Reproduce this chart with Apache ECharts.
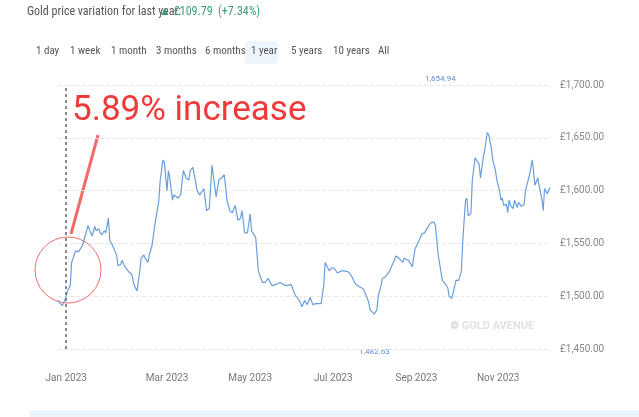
<!DOCTYPE html>
<html>
<head>
<meta charset="utf-8">
<script src="https://cdn.jsdelivr.net/npm/echarts@6/dist/echarts.min.js"></script>
<style>html,body{margin:0;padding:0;background:#fff}#c{width:639px;height:417px}</style>
</head>
<body>
<div id="c"></div>
<script>
// day offsets (0 = the dashed start line) and gold price in GBP
var days = [-6,-3,-1,0,1,3,4,7,9,10,12,13,15,16,18,19,21,22,24,25,26,28,29,31,32,34,35,37,38,40,41,43,46,48,50,52,54,55,57,58,60,61,63,65,68,69,71,72,74,75,76,78,79,82,84,86,88,90,91,93,95,96,98,101,103,105,107,110,112,114,116,118,120,122,124,126,128,129,131,133,135,136,137,139,141,144,146,147,148,151,154,157,161,165,168,171,173,175,177,179,181,183,185,187,189,190,193,195,197,199,202,204,207,209,210,212,215,218,220,222,223,226,228,229,231,232,234,237,240,242,244,247,248,251,254,256,259,261,263,266,268,270,271,273,276,278,280,281,283,284,286,288,290,291,293,294,295,297,298,300,301,303,304,306,307,309,310,312,313,315,316,318,319,320,321,323,324,325,326,328,329,331,332,334,336,337,339,340,342,343,344,346,347,349,350,351,353,354,355];
var prices = [1496,1491,1496,1500,1505,1510,1532,1543,1542,1543,1548,1553,1562,1567,1560,1557,1566,1562,1564,1560,1558,1562,1560,1574,1553,1548,1545,1539,1529,1530,1534,1528,1523,1521,1510,1505,1524,1536,1539,1536,1532,1539,1548,1567,1591,1610,1629,1627,1600,1619,1612,1591,1596,1593,1596,1619,1612,1610,1619,1622,1608,1600,1596,1602,1581,1583,1624,1594,1610,1612,1615,1591,1581,1579,1586,1572,1574,1581,1560,1560,1578,1562,1560,1556,1524,1513,1513,1512,1517,1510,1511,1513,1510,1511,1501,1496,1490,1496,1492,1499,1492,1493,1493,1493,1510,1532,1524,1527,1526,1522,1524,1524,1523,1520,1520,1512,1509,1507,1501,1494,1487,1483,1487,1500,1510,1517,1518,1523,1532,1538,1536,1532,1536,1534,1528,1545,1553,1559,1560,1567,1570,1570,1566,1539,1515,1512,1508,1500,1498,1499,1515,1515,1524,1553,1591,1593,1576,1579,1610,1631,1629,1625,1612,1631,1638,1655,1653,1640,1629,1619,1610,1600,1591,1593,1586,1587,1579,1591,1586,1583,1591,1584,1589,1585,1587,1600,1610,1615,1629,1629,1605,1612,1605,1592,1581,1602,1597,1597,1603];
var tickDays = [0,74,135,196,257,317];
var tickLabels = ['Jan 2023','Mar 2023','May 2023','Jul 2023','Sep 2023','Nov 2023'];
var yTicks = [1450,1500,1550,1600,1650,1700];
var periods = ['1 day','1 week','1 month','3 months','6 months','1 year','5 years','10 years','All'];
var periodX = [36,70,111,156,205,251,291,333,378];

var series = days.map(function (d, i) { return [d, prices[i]]; });
var chart = echarts.init(document.getElementById('c'));
var narrow = '"Liberation Sans Narrow", "Roboto Condensed", Roboto';

var graphics = [
  { type: 'text', left: 27, top: 6, style: { text: 'Gold price variation for last year:', fill: '#555', font: '12px ' + narrow } },
  { type: 'text', left: 159, top: 6, style: { text: '\u25B2 £109.79  (+7.34%)', fill: '#3d9c78', font: '12px ' + narrow } },
  { type: 'rect', shape: { x: 245, y: 41, width: 33, height: 23, r: 4 }, style: { fill: '#eef5fc' } },
  { type: 'text', left: 450, top: 321, style: { text: '\u2741 GOLD AVENUE', fill: '#e2e2e2', font: 'bold 11px Roboto' } },
  { type: 'text', left: 425, top: 75, style: { text: '1,654.94', fill: '#5b8fd0', font: '8px Roboto' } },
  { type: 'text', left: 359, top: 348, style: { text: '1,482.63', fill: '#5b8fd0', font: '8px Roboto' } },
  { type: 'circle', shape: { cx: 68, cy: 270, r: 33 }, style: { fill: 'none', stroke: '#f26b6b', lineWidth: 1 } },
  { type: 'line', shape: { x1: 71, y1: 234, x2: 98, y2: 135 }, style: { stroke: '#f46a6a', lineWidth: 3 } },
  { type: 'text', left: 72, top: 94, style: { text: '5.89% increase', fill: '#f03a3a', font: '35px Roboto' } },
  { type: 'rect', shape: { x: 30, y: 410, width: 609, height: 7 }, style: { fill: '#eef6fb' } }
];
periods.forEach(function (p, i) {
  graphics.push({ type: 'text', left: periodX[i], top: 46, style: { text: p, fill: '#555', font: '11px ' + narrow } });
});

chart.setOption({
  animation: false,
  grid: { left: 58, right: 89, top: 85, bottom: 68 },
  xAxis: {
    type: 'value', min: -6, max: 355, interval: 1,
    axisLine: { show: false }, axisTick: { show: false }, splitLine: { show: false },
    axisLabel: {
      color: '#777', fontSize: 10, fontFamily: 'Roboto', margin: 24,
      formatter: function (v) { var k = tickDays.indexOf(v); return k >= 0 ? tickLabels[k] : ''; }
    }
  },
  yAxis: {
    type: 'value', position: 'right', min: 1450, max: 1700, interval: 50,
    axisLine: { show: false }, axisTick: { show: false },
    splitLine: { lineStyle: { color: '#e8e8e8', type: 'dashed' } },
    axisLabel: {
      color: '#888', fontSize: 10, fontFamily: 'Roboto', margin: 10,
      formatter: function (v) { return yTicks.indexOf(v) >= 0 ? '£' + v.toLocaleString('en-GB') + '.00' : ''; }
    }
  },
  series: [{
    type: 'line', data: series, showSymbol: false,
    lineStyle: { color: '#6a9fdc', width: 1.2 },
    markLine: {
      silent: true, symbol: 'none', label: { show: false },
      lineStyle: { color: '#666', type: [3, 3], width: 1.5 },
      data: [{ xAxis: 0 }]
    }
  }],
  graphic: graphics
});
</script>
</body>
</html>
